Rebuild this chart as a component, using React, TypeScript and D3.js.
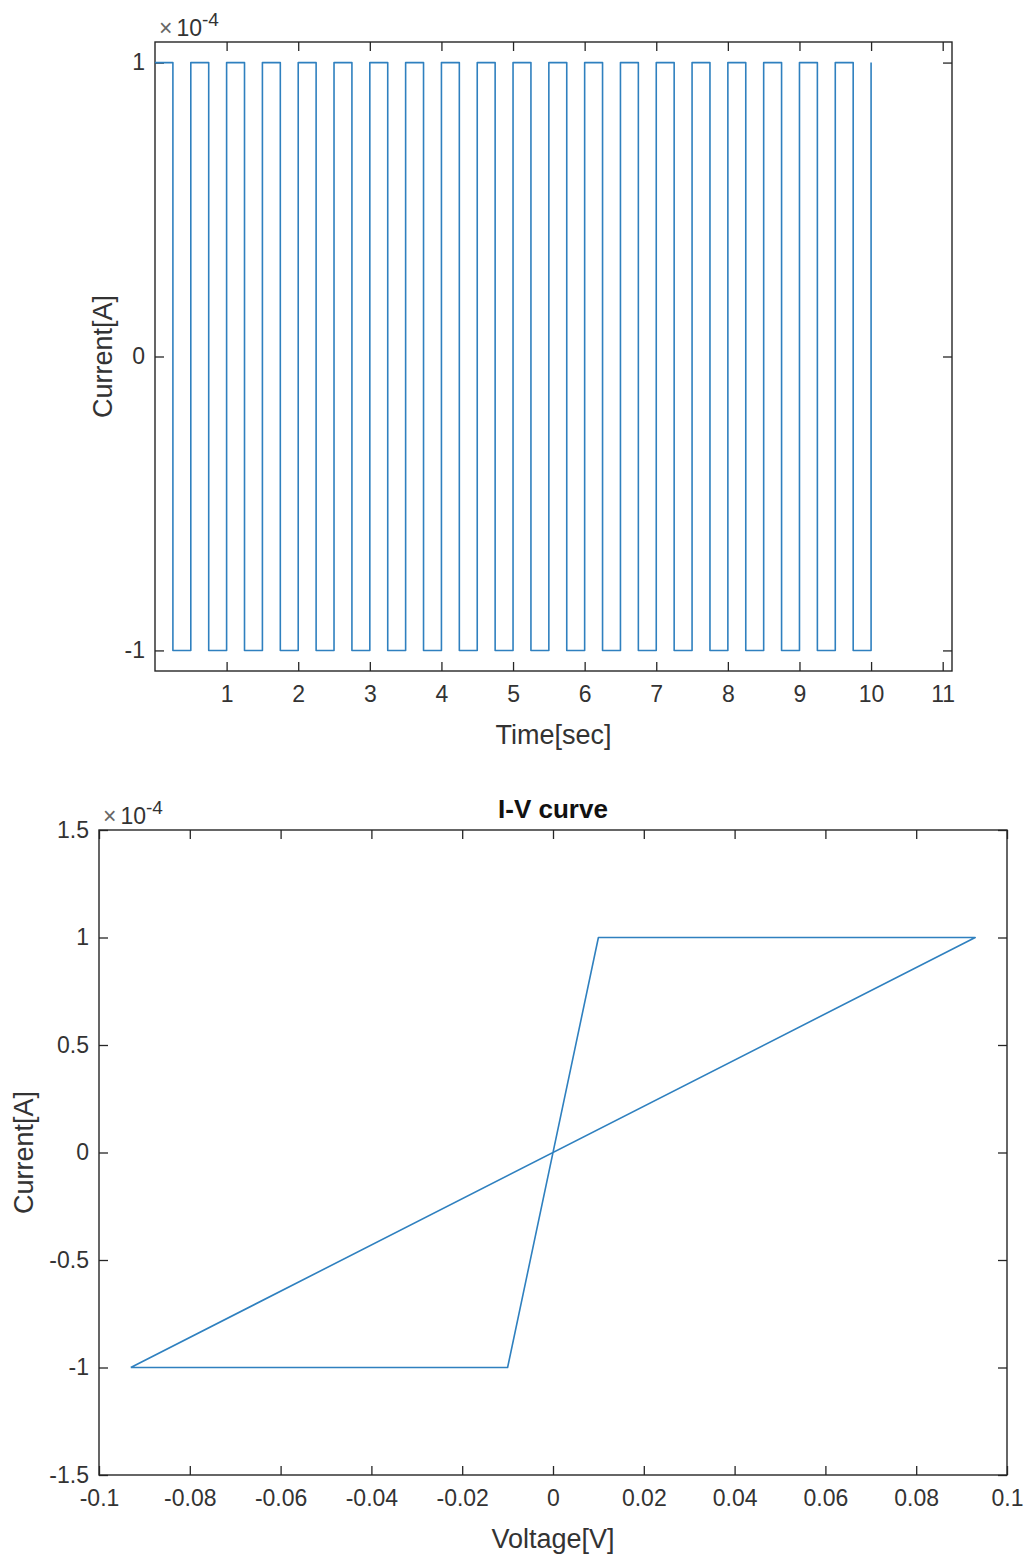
import React, { useEffect, useRef } from 'react';
import * as d3 from 'd3';

// square-wave current (top panel)
const times = [0, 0.25, 0.5, 0.75, 1, 1.25, 1.5, 1.75, 2, 2.25, 2.5, 2.75, 3, 3.25, 3.5, 3.75, 4, 4.25, 4.5, 4.75,
  5, 5.25, 5.5, 5.75, 6, 6.25, 6.5, 6.75, 7, 7.25, 7.5, 7.75, 8, 8.25, 8.5, 8.75, 9, 9.25, 9.5, 9.75, 10];
const currents = [1e-4, -1e-4, 1e-4, -1e-4, 1e-4, -1e-4, 1e-4, -1e-4, 1e-4, -1e-4, 1e-4, -1e-4, 1e-4, -1e-4,
  1e-4, -1e-4, 1e-4, -1e-4, 1e-4, -1e-4, 1e-4, -1e-4, 1e-4, -1e-4, 1e-4, -1e-4, 1e-4, -1e-4, 1e-4, -1e-4,
  1e-4, -1e-4, 1e-4, -1e-4, 1e-4, -1e-4, 1e-4, -1e-4, 1e-4, -1e-4, 1e-4];

// I-V loop (bottom panel)
const ivVoltage = [-0.093, 0.093, 0.01, -0.01, -0.093];
const ivCurrent = [-1e-4, 1e-4, 1e-4, -1e-4, -1e-4];

// ticks
const timeTicks = [1, 2, 3, 4, 5, 6, 7, 8, 9, 10, 11];
const currentTicksTop = [-1e-4, 0, 1e-4];
const voltageTicks = [-0.1, -0.08, -0.06, -0.04, -0.02, 0, 0.02, 0.04, 0.06, 0.08, 0.1];
const currentTicksBottom = [-1.5e-4, -1e-4, -0.5e-4, 0, 0.5e-4, 1e-4, 1.5e-4];

const FONT = '"Liberation Sans", Arial, Helvetica, sans-serif';
const AXIS = '#262626';
const LINE = '#2f80bf';

function drawPanel(svg, o) {
  const x = d3.scaleLinear().domain(o.xDomain).range([o.left, o.right]);
  const y = d3.scaleLinear().domain(o.yDomain).range([o.bottom, o.top]);
  const g = svg.append('g');
  const tick = 9;

  const style = (sel) => {
    sel.select('.domain').remove();
    sel.selectAll('.tick line').attr('stroke', AXIS).attr('stroke-width', 1.3);
    sel.selectAll('.tick text').attr('fill', '#333').attr('font-family', FONT).attr('font-size', 23);
  };

  g.append('g').attr('transform', `translate(0,${o.bottom})`)
    .call(d3.axisBottom(x).tickValues(o.xTicks).tickSize(-tick).tickPadding(15).tickFormat(o.xFormat))
    .call(style);
  g.append('g').attr('transform', `translate(0,${o.top})`)
    .call(d3.axisTop(x).tickValues(o.xTicks).tickSize(-tick).tickFormat(() => ''))
    .call(style);
  g.append('g').attr('transform', `translate(${o.left},0)`)
    .call(d3.axisLeft(y).tickValues(o.yTicks).tickSize(-tick).tickPadding(10).tickFormat(o.yFormat))
    .call(style);
  g.append('g').attr('transform', `translate(${o.right},0)`)
    .call(d3.axisRight(y).tickValues(o.yTicks).tickSize(-tick).tickFormat(() => ''))
    .call(style);

  g.append('rect')
    .attr('x', o.left).attr('y', o.top)
    .attr('width', o.right - o.left).attr('height', o.bottom - o.top)
    .attr('fill', 'none').attr('stroke', AXIS).attr('stroke-width', 1.4);

  const line = d3.line().x((d) => x(d[0])).y((d) => y(d[1]));
  if (o.curve) line.curve(o.curve);
  g.append('path')
    .datum(o.points)
    .attr('d', line)
    .attr('fill', 'none')
    .attr('stroke', LINE)
    .attr('stroke-width', 1.6)
    .attr('stroke-linejoin', 'round');

  // exponent label
  const ex = g.append('text').attr('x', o.left + 4).attr('y', o.top - 6)
    .attr('font-family', FONT).attr('font-size', 23).attr('fill', '#333');
  ex.append('tspan').attr('fill', '#666').text('\u00d7');
  ex.append('tspan').attr('dx', 4).text('10');
  ex.append('tspan').attr('dy', -10).attr('font-size', 19).text('-4');

  g.append('text')
    .attr('x', (o.left + o.right) / 2).attr('y', o.bottom + 73)
    .attr('text-anchor', 'middle').attr('font-family', FONT).attr('font-size', 27).attr('fill', '#333')
    .text(o.xLabel);
  g.append('text')
    .attr('transform', `translate(${o.yLabelX},${(o.top + o.bottom) / 2}) rotate(-90)`)
    .attr('text-anchor', 'middle').attr('font-family', FONT).attr('font-size', 27).attr('fill', '#333')
    .text(o.yLabel);
  if (o.title) {
    g.append('text')
      .attr('x', (o.left + o.right) / 2).attr('y', o.top - 12)
      .attr('text-anchor', 'middle').attr('font-family', FONT).attr('font-size', 26)
      .attr('font-weight', 'bold').attr('fill', '#111')
      .text(o.title);
  }
}

export default function App() {
  const ref = useRef(null);

  useEffect(() => {
    if (!ref.current) return;
    const svg = d3.select(ref.current);
    svg.selectAll('*').remove();

    const fmtCurrent = (v) => String(+(v / 1e-4).toFixed(1));

    drawPanel(svg, {
      left: 155, right: 952, top: 42, bottom: 671,
      xDomain: [0, 11.13], yDomain: [-1.07e-4, 1.07e-4],
      xTicks: timeTicks, yTicks: currentTicksTop,
      xFormat: (v) => String(v), yFormat: fmtCurrent,
      points: times.map((t, i) => [t, currents[i]]),
      curve: d3.curveStepAfter,
      xLabel: 'Time[sec]', yLabel: 'Current[A]', yLabelX: 112,
    });

    drawPanel(svg, {
      left: 99, right: 1007, top: 830, bottom: 1475,
      xDomain: [-0.1, 0.1], yDomain: [-1.5e-4, 1.5e-4],
      xTicks: voltageTicks, yTicks: currentTicksBottom,
      xFormat: (v) => String(+v.toFixed(2)), yFormat: fmtCurrent,
      points: ivVoltage.map((v, i) => [v, ivCurrent[i]]),
      xLabel: 'Voltage[V]', yLabel: 'Current[A]', yLabelX: 33,
      title: 'I-V curve',
    });
  }, []);

  return (
    <svg ref={ref} width={1025} height={1558}
      style={{ position: 'absolute', left: 0, top: 0, background: '#fff' }} />
  );
}
